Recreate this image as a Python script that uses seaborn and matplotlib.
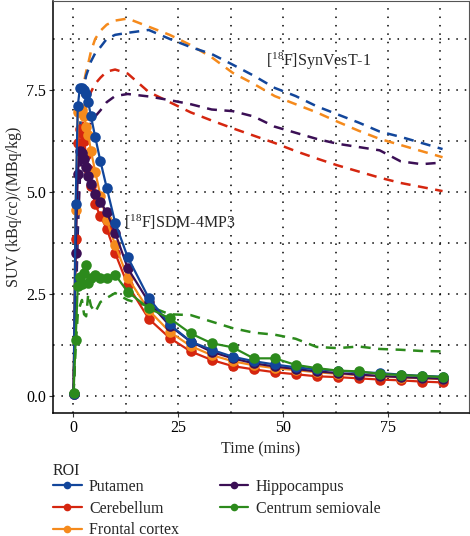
import pandas as pd
import matplotlib.pyplot as plt
import seaborn as sns
from matplotlib.lines import Line2D

# frame mid-times (mins)
times = [0.1, 0.6, 1.1, 1.6, 2.1, 2.6, 3.1, 3.6, 4.25, 5.25, 6.5, 8, 10, 13, 18,
         23, 28, 33, 38, 43, 48, 53, 58, 63, 68, 73, 78, 83, 88]

regions = ["Putamen", "Cerebellum", "Frontal cortex", "Hippocampus", "Centrum semiovale"]
colors = ["#12469b", "#d5260f", "#f58a1c", "#3b0f55", "#2c8a1c"]

# [18F]SDM-4MP3 (solid, markers)
sdm_putamen = [0.05, 4.7, 7.1, 7.55, 7.55, 7.5, 7.4, 7.2, 6.85, 6.35, 5.75, 5.1, 4.25, 3.4, 2.4,
               1.75, 1.33, 1.13, 0.96, 0.85, 0.77, 0.7, 0.65, 0.62, 0.58, 0.56, 0.52, 0.49, 0.47]
sdm_cerebellum = [0.05, 3.85, 6.2, 6.55, 6.45, 6.25, 5.9, 5.55, 5.15, 4.7, 4.4, 4.1, 3.5, 2.72, 1.89,
                  1.42, 1.09, 0.88, 0.73, 0.65, 0.58, 0.53, 0.48, 0.46, 0.43, 0.4, 0.38, 0.35, 0.33]
sdm_frontal = [0.05, 4.55, 6.95, 7.05, 7.0, 6.85, 6.6, 6.4, 6.0, 5.5, 4.9, 4.3, 3.7, 2.9, 2.1,
               1.57, 1.22, 1.0, 0.85, 0.75, 0.68, 0.63, 0.58, 0.54, 0.51, 0.48, 0.45, 0.43, 0.41]
sdm_hippocampus = [0.05, 3.5, 5.45, 6.0, 5.95, 5.8, 5.6, 5.4, 5.2, 4.95, 4.75, 4.5, 4.0, 3.13, 2.3,
                   1.72, 1.33, 1.08, 0.92, 0.8, 0.72, 0.66, 0.6, 0.56, 0.52, 0.49, 0.46, 0.44, 0.42]
sdm_centrum = [0.07, 1.37, 2.7, 2.92, 2.75, 3.0, 3.21, 2.76, 2.9, 2.97, 2.9, 2.88, 2.97, 2.55, 2.15,
               1.9, 1.53, 1.29, 1.19, 0.92, 0.92, 0.76, 0.68, 0.62, 0.6, 0.54, 0.51, 0.49, 0.46]

# [18F]SynVesT-1 (dashed)
syn_putamen = [0.05, 2.5, 5.0, 6.5, 7.2, 7.6, 7.85, 8.0, 8.2, 8.4, 8.55, 8.75, 8.85, 8.9, 8.97,
               8.75, 8.55, 8.38, 8.12, 7.85, 7.55, 7.35, 7.1, 6.9, 6.7, 6.48, 6.35, 6.2, 6.05]
syn_cerebellum = [0.05, 2.3, 4.6, 6.0, 6.6, 6.9, 7.1, 7.25, 7.45, 7.65, 7.8, 7.95, 8.0, 7.9, 7.45,
                  7.2, 6.95, 6.75, 6.56, 6.38, 6.2, 6.0, 5.82, 5.65, 5.5, 5.35, 5.22, 5.12, 5.02]
syn_frontal = [0.05, 2.5, 5.0, 6.6, 7.3, 7.7, 7.95, 8.15, 8.45, 8.75, 8.95, 9.1, 9.2, 9.25, 9.05,
               8.85, 8.6, 8.3, 7.92, 7.65, 7.35, 7.15, 6.95, 6.72, 6.5, 6.3, 6.15, 6.0, 5.85]
syn_hippocampus = [0.05, 2.0, 4.0, 5.3, 5.9, 6.2, 6.4, 6.55, 6.7, 6.85, 7.0, 7.2, 7.35, 7.4, 7.34,
                   7.25, 7.15, 7.02, 6.98, 6.85, 6.6, 6.45, 6.3, 6.18, 6.1, 6.02, 5.75, 5.68, 5.72]
syn_centrum = [0.05, 1.2, 2.0, 2.2, 2.35, 2.0, 1.95, 2.5, 2.2, 2.05, 2.3, 2.4, 2.52, 2.35, 2.2,
               2.0, 1.98, 1.82, 1.66, 1.55, 1.5, 1.4, 1.2, 1.17, 1.21, 1.15, 1.13, 1.1, 1.09]


def to_long(series):
    frames = []
    for name, vals in zip(regions, series):
        frames.append(pd.DataFrame({"time": times, "suv": vals, "ROI": name}))
    return pd.concat(frames, ignore_index=True)


def main():
    sdm = to_long([sdm_putamen, sdm_cerebellum, sdm_frontal, sdm_hippocampus, sdm_centrum])
    syn = to_long([syn_putamen, syn_cerebellum, syn_frontal, syn_hippocampus, syn_centrum])
    palette = dict(zip(regions, colors))

    sns.set_theme(style="white")
    plt.rcParams["font.family"] = ["Liberation Serif", "DejaVu Serif"]
    plt.rcParams["mathtext.fontset"] = "custom"
    plt.rcParams["mathtext.rm"] = "Liberation Serif"

    fig = plt.figure(figsize=(4.7, 5.36), dpi=100)
    ax = fig.add_axes([53 / 470, 1 - 413 / 536, (469 - 53) / 470, (413 - 1) / 536])

    # dotted grid, major + minor
    for gx in [0, 12.5, 25, 37.5, 50, 62.5, 75, 87.5]:
        ax.axvline(gx, color="black", lw=1.1, ls=(0, (1, 4.5)), zorder=0)
    for gy in [0, 1.25, 2.5, 3.75, 5.0, 6.25, 7.5, 8.75]:
        ax.axhline(gy, color="black", lw=1.1, ls=(0, (1, 4.5)), zorder=0)

    draw_order = ["Cerebellum", "Frontal cortex", "Hippocampus", "Putamen", "Centrum semiovale"]
    sns.lineplot(data=syn, x="time", y="suv", hue="ROI", hue_order=draw_order,
                 palette=palette, lw=1.8, dashes=False, legend=False, ax=ax, zorder=2)
    for ln in ax.get_lines()[-5:]:
        ln.set_dashes((4, 3))

    sns.lineplot(data=sdm, x="time", y="suv", hue="ROI", hue_order=draw_order,
                 palette=palette, lw=1.6, marker="o", markersize=7.6, markeredgewidth=0,
                 legend=False, ax=ax, zorder=3)

    ax.set_xlim(-4.8, 94.3)
    ax.set_ylim(-0.42, 9.68)
    ax.set_xticks([0, 25, 50, 75])
    ax.set_yticks([0, 2.5, 5.0, 7.5])
    ax.set_yticklabels(["0.0", "2.5", "5.0", "7.5"])
    ax.tick_params(axis="both", length=3, width=0.8, color="#333333", labelsize=11.5,
                   labelcolor="black", pad=2, bottom=True, left=True)
    ax.set_xlabel("Time (mins)", fontsize=11.5, labelpad=4)
    ax.set_ylabel("SUV (kBq/cc)/(MBq/kg)", fontsize=11.5, labelpad=3)

    for side in ["left", "bottom"]:
        ax.spines[side].set_color("black")
        ax.spines[side].set_linewidth(1.1)
    for side in ["top", "right"]:
        ax.spines[side].set_color("#555555")
        ax.spines[side].set_linewidth(0.8)

    ax.text(58.5, 8.2, r"$\mathregular{[^{18}}$F]SynVesT-1", fontsize=11.5, ha="center", va="center")
    ax.text(25.5, 4.25, r"$\mathregular{[^{18}}$F]SDM-4MP3", fontsize=11.5, ha="center", va="center")

    handles = [Line2D([], [], color=c, lw=1.6, marker="o", markersize=5.5, markeredgewidth=0)
               for c in colors]
    leg = fig.legend(handles, regions, title="ROI", ncol=2, loc="upper left",
                     bbox_to_anchor=(53 / 470, 1 - 463 / 536), frameon=False,
                     fontsize=11.5, title_fontsize=11.5, alignment="left",
                     handlelength=1.8, handletextpad=0.45, columnspacing=2.55,
                     labelspacing=0.35, borderpad=0, borderaxespad=0)
    leg._legend_box.sep = 0

    fig.savefig("out.png", dpi=100)
    plt.close(fig)


if __name__ == "__main__":
    main()
